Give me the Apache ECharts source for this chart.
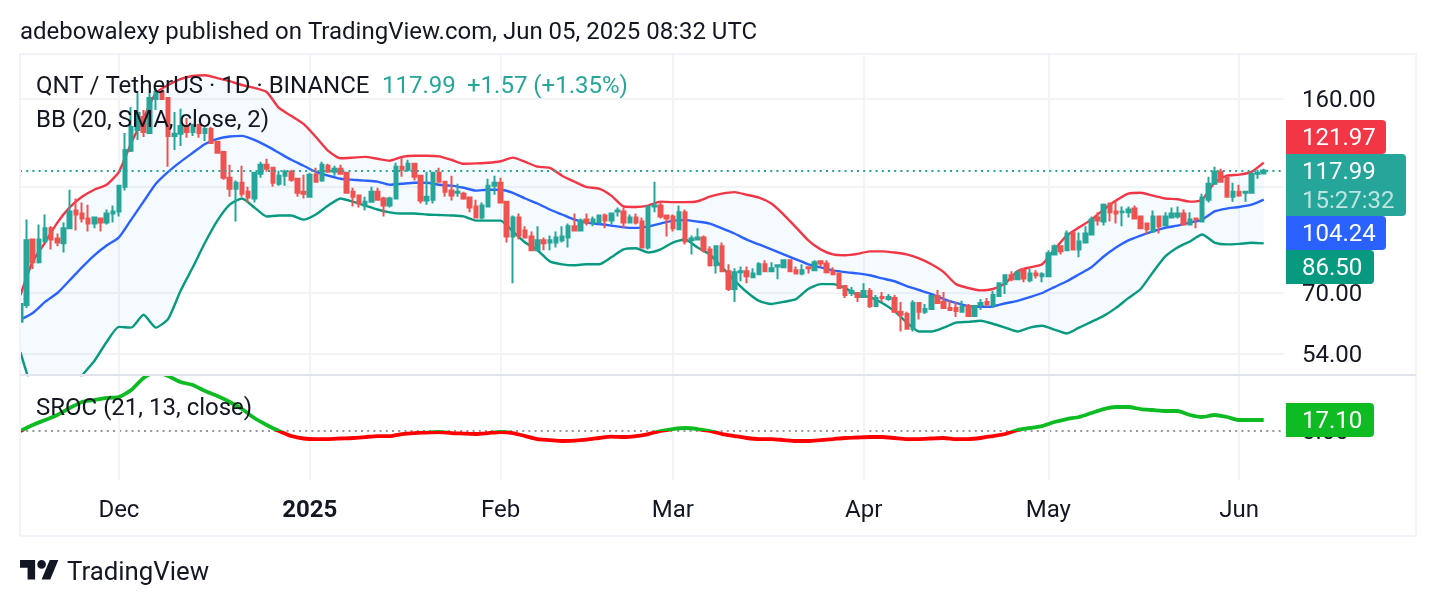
<!DOCTYPE html>
<html>
<head>
<meta charset="utf-8">
<title>QNT / TetherUS</title>
<style>html,body{margin:0;padding:0;background:#fff}#main{width:1436px;height:606px}</style>
</head>
<body>
<div id="main"></div>
<script src="https://cdn.jsdelivr.net/npm/echarts@6/dist/echarts.min.js"></script>
<script>
var DAY = 86400000;
var firstDay = Date.UTC(2024, 10, 15);

// daily candles from Nov 15, each row is open, close, low, high
var candles = [
[61.9,66.8,61.9,66.8],[66.5,87.6,65.7,95.7],[87.9,79.8,77.5,87.9],[79.8,87.9,79.4,93.7],[87.2,92.2,87.2,97.8],[92.2,87.9,84.3,93],[88.3,86.8,85.4,90.2],[86.5,92.2,83.2,94.5],
[92.2,99.1,91.8,108.7],[99.5,97.8,91.4,104.7],[98.2,96.2,94.5,102.9],[96.2,94.1,91,102],[94.1,96.6,92.2,96.8],[96.2,94.5,91,96.4],[94.5,98.2,93.7,99.9],[98.2,99.1,94.5,101.6],
// Dec
[99.1,110.6,97,111],[110.1,128.8,108.3,138.4],[128.3,142,127.7,154.7],[140.2,150.8,134.4,164.1],[148.2,139,136.1,152.7],[138.4,160.7,137.9,164.1],[160,164.8,152.7,167.7],[164.8,160,159.3,167.7],
[160.7,136.7,119.9,161.4],[136.7,137.9,128.8,151.4],[137.9,142.6,131,153.4],[142.6,139,135.6,147.6],[139,143.2,136.7,143.9],[143.2,138.4,135.6,143.9],[138.4,140.8,133.8,142],[140.8,132.7,132.7,142],
[133.3,127.2,127.2,133.3],[127.7,114.4,113.4,128.3],[114.4,109.2,105.5,120.9],[109.2,112,94.9,113],[112,106.9,105.5,120.4],[107.8,105.1,102.9,110.1],[104.7,116.8,102.9,117.3],[116.4,120.9,114.4,122.4],
[120.9,118.8,117.3,124],[119.3,112,110.1,119.9],[111.5,115.4,110.6,117.8],[115.4,117.3,110.6,118.3],[117.3,113.4,112.5,118.3],[113.9,107.3,105.5,113.9],[107.8,106.9,104.7,115.9],
// Jan
[105.5,115.9,105.1,116.8],[115.9,112.5,112.5,119.3],[113,120.9,112.5,122.4],[120.4,117.3,116.8,121.4],[117.3,118.8,115.4,120.4],[118.8,116.4,115.9,120.9],[116.8,107.3,107.3,117.3],[107.8,105.5,101.2,109.6],
[106,102.5,100.8,106.4],[101.6,103.3,99.5,105.5],[103.3,107.8,103.3,110.1],[107.8,104.2,103.8,109.6],[104.7,101.6,97,105.5],[101.6,104.7,100.8,105.5],[104.7,119.9,104.7,121.9],[119.9,118.3,114.9,124.6],
[118.3,121.4,117.3,123.5],[121.4,114.9,113,121.4],[115.4,103.8,102.5,115.4],[103.8,105.5,102,117.3],[104.2,116.8,102.5,117.3],[116.8,112.5,112.5,119.3],[112.5,107.8,105.5,112.5],[108.3,106,103.8,115.4],
[107.3,107.8,105.5,111.5],[106.9,104.7,104.2,107.8],[105.1,100.8,98.7,105.5],[101.2,96.6,96.6,104.2],[96.6,101.6,95.7,102.9],[101.2,110.6,101.2,113.9],[110.6,112,106.4,115.4],
// Feb
[112,102.9,102.9,114.4],[103.3,89.1,86.8,103.3],[89.1,96.6,73,97.4],[96.6,89.4,87.9,98.2],[91.4,88.7,88.7,93],[89.1,84,84,91],[84,87.6,84,93],[87.6,86.5,84,88.7],
[86.8,87.6,84,89.4],[86.8,88.7,85,91],[87.6,89.1,86.8,93],[88.7,93,85,94.1],[93,91.4,91.4,98.2],[91.4,95.3,91,96.2],[95.7,94.5,93.3,98.2],[94.5,95.7,93,97],
[94.5,97.4,94.5,97.8],[97.4,95.3,92.2,98.2],[95.3,98.2,93.7,98.2],[99.1,99.5,97,100.8],[99.1,94.5,92.2,100.8],[94.5,96.6,94.5,97.8],[96.6,94.5,93.7,98.2],[94.9,85,85,96.6],
[85,101.2,84.3,101.2],[101.2,101.6,98.7,112.5],[101.6,97,96.2,103.3],[97.4,96.2,89.1,97.4],
// Mar
[97,92.2,91,97.8],[91.8,98.7,91.8,101.6],[98.7,87.2,86.1,99.9],[87.6,88.3,82.5,89.4],[87.9,88.7,87.9,92.2],[88.7,84,83.2,89.4],[84.3,78.8,78.4,85.4],[78.8,85.4,76.1,85.4],
[85.4,76.8,76.5,86.8],[76.8,71.2,70.6,79.1],[71.2,76.5,67.4,77.8],[76.5,76.8,73.6,78.4],[76.8,75.2,73,78.4],[74.9,76.1,74.9,77.8],[75.8,79.1,75.8,79.8],[79.1,76.8,76.5,80.5],
[76.8,77.8,76.8,79.8],[78.4,78.8,74.2,78.8],[78.1,80.5,78.1,80.8],[80.5,76.8,76.8,80.8],[77.1,76.1,75.8,78.4],[76.1,77.1,75.5,79.1],[78.1,77.8,76.1,78.4],[77.1,79.8,76.8,80.5],
[80.1,79.4,78.1,80.5],[79.4,76.5,76.1,80.5],[76.8,75.8,75.5,78.1],[76.1,71.5,71.5,76.1],[72.1,69.4,68.5,72.1],[70,70.6,69.1,71.8],[70,68.8,67.4,70],
// Apr
[68.8,70.6,68.8,73],[70.6,66.2,65.7,71.5],[66.2,68.5,66.2,69.4],[68.8,68.5,67.4,70.3],[68.2,68.8,67.7,69.7],[68.5,64.6,64.3,69.4],[64.6,63.8,59.4,67.4],[64,60.1,59.9,64.6],
[60.1,67.1,59.4,67.9],[67.1,64.6,62.5,67.1],[64.6,65.4,64,66.8],[65.4,69.1,65.4,69.4],[69.1,67.1,67.1,70.9],[67.4,65.7,65.7,70.3],[65.7,65.1,64.8,67.9],[65.7,64.8,63.2,67.4],
[64.6,66,64.6,67.7],[66.2,63.5,63.5,66.8],[63.5,66.2,63.5,66.5],[66.5,67.1,65.1,68.2],[67.4,66.8,66,68.5],[66.5,69.4,65.7,70.6],[69.1,73,69.1,73.3],[72.7,75.5,69.7,75.8],
[75.5,74.2,73.6,76.8],[74.2,76.5,73.9,77.1],[77.1,74.5,73.3,77.8],[73.9,76.1,73.3,77.5],[76.1,75.5,74.5,77.1],[75.2,75.8,73.3,76.5],
// May
[75.2,82.9,75.2,84],[82.5,85.4,82.2,86.1],[85.4,83.6,82.5,85.4],[84,90.2,84,91.4],[90.6,84.3,84.3,90.6],[84.3,87.2,81.5,90.6],[86.8,90.2,86.8,93],[89.8,95.7,89.8,97],
[96.6,95.3,93.3,98.7],[94.9,102,93.3,102.5],[102.5,98.7,94.9,102.5],[99.1,98.2,94.1,103.8],[98.7,99.1,93,101.2],[98.7,99.9,96.6,101.2],[100.3,96.2,96.2,101.6],[97,92.2,92.2,97],
[94.1,91.8,89.8,94.1],[91,97,91,99.5],[97,93,90.2,97.4],[93.3,97,93.3,98.7],[96.6,98.2,96.6,100.8],[97,98.2,96.2,101.2],[98.2,93.7,93.7,99.9],[93.7,95.7,93.7,98.7],
[96.2,95.7,92.2,96.2],[94.9,105.1,94.5,106.9],[104.2,111.5,102.9,114.9],[111.5,117.3,111.5,119.9],[117.3,112.5,112,118.8],[114.4,105.5,105.5,114.4],[105.5,107.8,103.3,112],
// Jun
[107.8,106,105.5,111],[107.3,107.8,103.3,108],[107.3,116.4,107.3,116.8],[116.4,116.8,113.9,118.3],[116.42,117.99,116.4,118.8]
];

// indicator lines read every second day from Nov 15
var upperBand = [69.4,80.1,86.8,94.5,100.8,105.5,108.7,111,117.3,132.7,147.6,164.1,169.8,174.2,176.5,177,174.9,172.6,169.8,167.7,164.8,154,148.9,143.9,136.1,128.3,124.3,
124.6,125,124,123,125,125.6,125.6,125.3,123.5,121.4,121.6,121.9,122.7,124.6,122.4,119.9,119.3,115.4,112.5,109.9,109.2,106,101.2,101,101.6,103.3,103.1,
103.1,103.5,105.5,106.9,107.6,106.4,105.1,102.5,97.8,92.6,87.6,84.3,82.5,82.2,82.7,83.6,83.6,83.2,82.5,81.1,79.1,76.5,72.7,71.5,70.8,71.2,
73,76.8,78.1,79.1,84.3,89.4,92.6,95.7,99.9,103.8,106.9,107.3,106,104.7,104.4,103.3,104.2,112,115.4,115.9,117.3,121.97];

var middleBand = [62.5,64.3,67.4,70,73.9,78.1,82.2,85.7,88.7,95.7,103.3,111.5,117.3,122.4,127.2,132.1,135,136.4,136.7,134.4,131,127.2,123.5,120.4,
117.3,115.4,113.9,113.4,113,112.5,111,111.5,112,112,111,110.6,109.6,108.3,108.7,108.7,107.3,104.7,102.5,99.9,97.8,95.7,94.5,93.9,93.3,92.6,92.4,93,94.1,95.3,
95.5,94.9,94.1,92.2,90.2,87.9,86.1,84.3,82.5,80.8,79.1,78.1,77.1,76.5,76.1,75.5,74.5,73.6,72.1,70.9,69.7,68.2,67.1,66.2,66,66.1,
67,67.7,68.8,70,71.8,73.6,75.8,78.1,81.8,85,87.6,89.4,91,92.4,93.3,94.5,95.7,99.1,100.3,101,102,104.24];

var lowerBand = [54.4,46.3,43.4,42.5,44.8,49.2,52.4,56.8,60.6,60.4,63.8,60.4,62.7,70.6,78.1,86.8,95.3,102,104.7,100.8,97,97.4,97.4,95.7,97.8,101.6,104.7,
103.3,101.6,99.9,98.7,98.2,98.2,97.8,97.6,97.4,97,95.3,95.3,95.3,91,86.8,84,80.1,79.1,78.8,79.1,79.1,81.5,84.3,84.7,83.2,84.3,86.8,
87.9,85,82.5,78.1,73.9,70.3,67.7,66.8,67.4,68.2,71.2,72.7,72.7,71.5,69.4,68.8,67.1,64.8,61.7,59.4,59.4,60.4,61.7,61.9,62.2,61.4,
60.4,59.4,60.4,60.9,59.9,58.9,60.4,61.9,63.5,65.7,68.5,71.2,76.5,81.8,85,87.2,89.8,86.8,86.1,86.3,86.7,86.5];

var srocValues = [-0.8,9,17.1,25.3,36.7,46.5,49.7,53,54.6,66,85.6,95.4,88.8,79,74.2,64.4,56.2,46.5,35,20.4,9,-0.8,-9,-13,-13.9,-13.9,-13,
-12.2,-10.6,-9,-9,-5.7,-4.1,-3.3,-2.4,-4.1,-4.9,-5.7,-4.1,-2.4,-4.1,-9,-13.9,-15.5,-17.1,-16.3,-14.7,-12.2,-9.8,-10.6,-9,-5.7,-0.8,2.4,
4.1,2.4,-0.8,-5.7,-9,-12.2,-13.9,-13.9,-15.5,-17.1,-17.1,-15.5,-13.9,-12.2,-11.4,-10.6,-10.6,-12.2,-13.9,-13.9,-13,-12.2,-13.9,-13.9,-12.2,-9,
-5.7,0.8,4.1,7.3,13.9,18.7,22,28.5,35,38.3,38.3,35,33.4,31.8,31.8,25.3,22,25.3,22,17.1,17.1,17.1];

var priceTicks = [54, 70, 110, 160];
var srocTicks = [0];
var monthDates = [Date.UTC(2024, 11, 1), Date.UTC(2025, 0, 1), Date.UTC(2025, 1, 1), Date.UTC(2025, 2, 1), Date.UTC(2025, 3, 1), Date.UTC(2025, 4, 1), Date.UTC(2025, 5, 1)];
var monthLabels = ['Dec', '{year|2025}', 'Feb', 'Mar', 'Apr', 'May', 'Jun'];
var lastPrice = 117.99;

var UP = '#26A69A', DOWN = '#EF5350', TEXT = '#131722', GRID = '#F3F4F8';
var SROC_UP = '#0EBB23', SROC_DOWN = '#FF0000';
var FONT = 'Roboto';
var SIZE = 24;
var srocMin = -80.6, srocMax = 88.8;
var srocZero = srocMax / (srocMax - srocMin);

function bandDay(i) { return firstDay + i * 2 * DAY; }
function linePoints(values) {
    return values.map(function (v, i) { return [bandDay(i), v]; });
}

function renderBandFill(params, api) {
    if (params.dataIndex > 0) return;
    var points = [];
    var i;
    for (i = 0; i < upperBand.length; i++) points.push(api.coord([bandDay(i), upperBand[i]]));
    for (i = lowerBand.length - 1; i >= 0; i--) points.push(api.coord([bandDay(i), lowerBand[i]]));
    return {
        type: 'polygon',
        shape: {points: points},
        style: {fill: 'rgba(33,150,243,0.05)'},
        silent: true
    };
}

function label(text, x, y, color, size) {
    return {
        type: 'text', x: x, y: y + 2, z: 120, silent: true,
        style: {text: text, fill: color, fontFamily: FONT, fontSize: size || SIZE, verticalAlign: 'middle'}
    };
}
function tag(x, y, w, h, color) {
    return {type: 'rect', z: 110, silent: true, shape: {x: x, y: y, width: w, height: h, r: [0, 4, 4, 0]}, style: {fill: color}};
}
function logoPart(points) {
    return {type: 'polygon', z: 120, silent: true, x: 20, y: 555.8, scaleX: 1.08, scaleY: 1.08, shape: {points: points}, style: {fill: TEXT}};
}
function priceLabel(value) {
    return '{p|' + value.toFixed(2) + '}';
}
var priceRich = {p: {fontFamily: FONT, fontSize: SIZE, color: TEXT, padding: [4, 0, 0, 0]}};

// value axis on timestamps, the month ticks are fixed by hand
var xCommon = {
    type: 'value',
    min: firstDay - 0.07 * DAY,
    max: firstDay + 205.29 * DAY,
    axisLine: {show: false},
    axisTick: {show: false, customValues: monthDates},
    splitLine: {show: true, lineStyle: {color: GRID, width: 2}}
};

var myChart = echarts.init(document.getElementById('main'), null, {renderer: 'canvas'});
myChart.setOption({
    animation: false,
    backgroundColor: '#ffffff',
    grid: [
        {left: 20, right: 152, top: 54, height: 321},
        {left: 20, right: 152, top: 376, height: 104}
    ],
    xAxis: [
        Object.assign({}, xCommon, {gridIndex: 0, axisLabel: {show: false}}),
        Object.assign({}, xCommon, {
            gridIndex: 1,
            axisLabel: {
                show: true,
                customValues: monthDates,
                margin: 19,
                hideOverlap: false,
                color: TEXT,
                fontFamily: FONT,
                fontSize: SIZE,
                formatter: function (value) {
                    return monthLabels[monthDates.indexOf(value)];
                },
                rich: {year: {fontFamily: FONT, fontSize: SIZE, fontWeight: 'bold', color: TEXT}}
            }
        })
    ],
    yAxis: [{
        type: 'log',
        gridIndex: 0,
        position: 'right',
        min: 49.36,
        max: 193.8,
        axisLine: {show: false},
        axisTick: {show: false, customValues: priceTicks},
        splitLine: {show: true, lineStyle: {color: GRID, width: 2}},
        axisLabel: {
            customValues: priceTicks,
            margin: 18,
            formatter: priceLabel,
            rich: priceRich
        }
    }, {
        type: 'value',
        gridIndex: 1,
        position: 'right',
        min: srocMin,
        max: srocMax,
        axisLine: {show: false},
        axisTick: {show: false, customValues: srocTicks},
        splitLine: {show: true, lineStyle: {color: '#9598A1', width: 2, type: [2, 4.2]}},
        axisLabel: {
            customValues: srocTicks,
            margin: 18,
            formatter: priceLabel,
            rich: priceRich
        }
    }],
    series: [{
        type: 'custom',
        name: 'BB fill',
        xAxisIndex: 0,
        yAxisIndex: 0,
        clip: true,
        silent: true,
        z: 1,
        encode: {x: 0, y: 1},
        data: linePoints(upperBand),
        renderItem: renderBandFill
    }, {
        type: 'line',
        name: 'BB upper',
        xAxisIndex: 0,
        yAxisIndex: 0,
        z: 2,
        symbol: 'none',
        smooth: 0.2,
        lineStyle: {color: '#F23645', width: 2.4},
        data: linePoints(upperBand)
    }, {
        type: 'line',
        name: 'BB basis',
        xAxisIndex: 0,
        yAxisIndex: 0,
        z: 2,
        symbol: 'none',
        smooth: 0.2,
        lineStyle: {color: '#2962FF', width: 2.4},
        data: linePoints(middleBand)
    }, {
        type: 'line',
        name: 'BB lower',
        xAxisIndex: 0,
        yAxisIndex: 0,
        z: 2,
        symbol: 'none',
        smooth: 0.2,
        lineStyle: {color: '#089981', width: 2.4},
        data: linePoints(lowerBand)
    }, {
        type: 'candlestick',
        name: 'QNT',
        xAxisIndex: 0,
        yAxisIndex: 0,
        z: 3,
        barWidth: 4,
        encode: {x: 0, y: [1, 2, 3, 4]},
        itemStyle: {color: UP, color0: DOWN, borderColor: UP, borderColor0: DOWN, borderWidth: 2},
        data: candles.map(function (row, i) {
            return [firstDay + i * DAY, row[0], row[1], row[2], row[3]];
        }),
        markLine: {
            silent: true,
            symbol: 'none',
            label: {show: false},
            lineStyle: {color: UP, width: 2, type: [2, 4.2]},
            data: [{yAxis: lastPrice}]
        }
    }, {
        type: 'line',
        name: 'SROC',
        xAxisIndex: 1,
        yAxisIndex: 1,
        symbol: 'none',
        smooth: 0.2,
        lineStyle: {
            width: 3.8,
            // hard colour change at the zero level of the lower pane
            color: {
                type: 'linear', x: 0, y: 376, x2: 0, y2: 480, global: true,
                colorStops: [
                    {offset: 0, color: SROC_UP},
                    {offset: srocZero, color: SROC_UP},
                    {offset: srocZero, color: SROC_DOWN},
                    {offset: 1, color: SROC_DOWN}
                ]
            }
        },
        data: linePoints(srocValues)
    }],
    graphic: {elements: [
        // first candle is cut by the chart edge
        {type: 'rect', z: 50, silent: true, shape: {x: 0, y: 54, width: 19, height: 321}, style: {fill: '#ffffff'}},
        label('adebowalexy published on TradingView.com, Jun 05, 2025 08:32 UTC', 20, 31, TEXT),
        {type: 'rect', z: 90, silent: true, shape: {x: 20, y: 54, width: 1396, height: 482}, style: {fill: 'none', stroke: '#F0F3FA', lineWidth: 2}},
        {type: 'line', z: 90, silent: true, shape: {x1: 20, y1: 375, x2: 1416, y2: 375}, style: {stroke: '#E0E3EB', lineWidth: 2}},
        label('QNT / TetherUS · 1D · BINANCE', 36, 85, TEXT),
        label('117.99', 382, 85, UP),
        label('+1.57 (+1.35%)', 467, 85, UP),
        label('BB (20, SMA, close, 2)', 36, 119, TEXT),
        label('SROC (21, 13, close)', 36, 407, TEXT),

        tag(1286, 120, 100, 34, '#F23645'),
        label('121.97', 1302, 137, '#ffffff'),
        tag(1286, 216, 100, 34, '#2962FF'),
        label('104.24', 1302, 233, '#ffffff'),
        tag(1286, 250, 88, 34, '#089981'),
        label('86.50', 1302, 267, '#ffffff'),
        tag(1286, 154, 120, 62, '#26A69A'),
        label('117.99', 1302, 171, '#ffffff'),
        label('15:27:32', 1302, 200, 'rgba(255,255,255,0.7)'),
        tag(1286, 403, 88, 34, SROC_UP),
        label('17.10', 1302, 420, '#ffffff'),

        logoPart([[0, 4], [14, 4], [14, 22], [7, 22], [7, 11], [0, 11]]),
        logoPart([[28, 22], [20, 22], [27.5, 4], [35.5, 4]]),
        {type: 'circle', z: 120, silent: true, shape: {cx: 41.6, cy: 564.4, r: 4.3}, style: {fill: TEXT}},
        label('TradingView', 67, 572, TEXT, 25.8)
    ]}
});
</script>
</body>
</html>
